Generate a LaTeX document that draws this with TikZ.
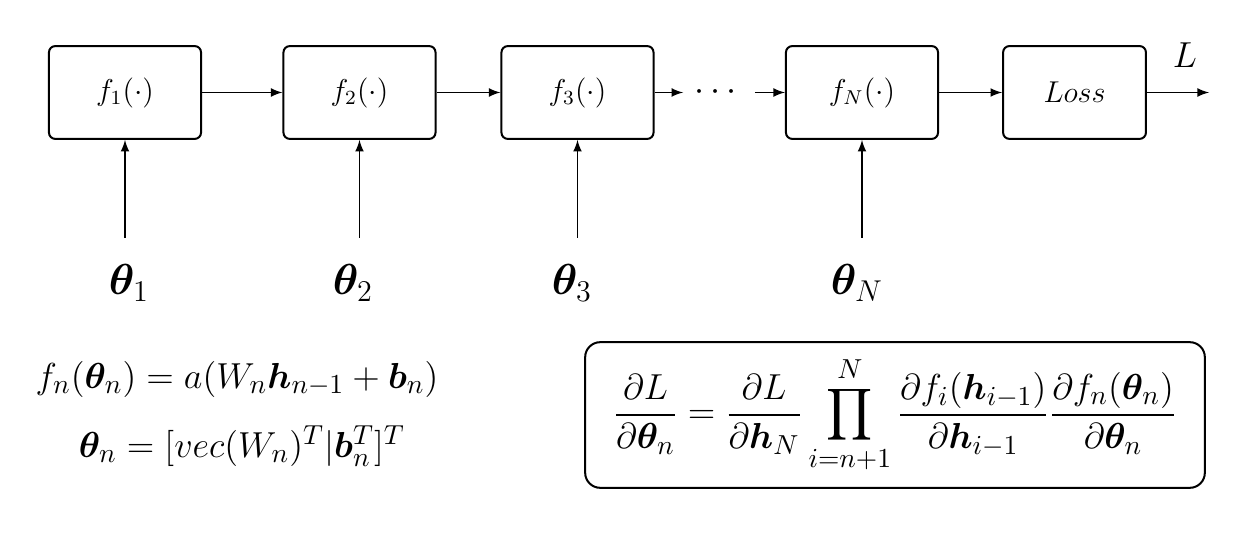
\documentclass[tikz,border=0pt]{standalone}
\usepackage{amsmath}
\usepackage{bm}
\usepackage{tikz}
\usetikzlibrary{shapes,arrows,positioning}

\newcommand{\eqsize}{\fontsize{15.6}{19}\selectfont}

\tikzset{
  fbox/.style={draw, line width=0.8pt, rounded corners=2.5pt, minimum width=2.13cm, minimum height=1.30cm, inner sep=0pt, font=\large},
  parlabel/.style={minimum height=1.26cm, inner sep=0pt},
  conn/.style={-latex, line width=0.6pt}
}

\begin{document}
\begin{tikzpicture}[x=0.014cm,y=-0.014cm,>=stealth]
      \useasboundingbox (0,0) rectangle (1246,539);

      % chain of blocks
      \node[fbox] (f1) at (125,92.5) {$f_1(\cdot)$};
      \node[fbox] (f2) at (359.5,92.5) {$f_2(\cdot)$};
      \node[fbox] (f3) at (577.5,92.5) {$f_3(\cdot)$};
      \node[minimum width=0.99cm, inner sep=0pt] (dots) at (719,92.5) {\Large$\cdots$};
      \node[fbox] (fN) at (862,92.5) {$f_N(\cdot)$};
      \node[fbox, minimum width=2.0cm] (loss) at (1074.5,92.5) {$Loss$};
      \coordinate (out) at (1209,92.5);
      \node (L) at (1185,55) {\Large$L$};

      \draw[conn] (f1) -- (f2);
      \draw[conn] (f2) -- (f3);
      \draw[conn] (f3) -- (dots);
      \draw[conn] (dots) -- (fN);
      \draw[conn] (fN) -- (loss);
      \draw[conn] (loss) -- (out);

      % parameters
      \node[parlabel] (t1) at (129,283) {\LARGE$\bm{\theta}_1$};
      \node[parlabel] (t2) at (353,283) {\LARGE$\bm{\theta}_2$};
      \node[parlabel] (t3) at (572,283) {\LARGE$\bm{\theta}_3$};
      \node[parlabel] (tN) at (857,283) {\LARGE$\bm{\theta}_N$};

      \draw[conn] (f1.south |- t1.north) -- (f1.south);
      \draw[conn] (f2.south |- t2.north) -- (f2.south);
      \draw[conn] (f3.south |- t3.north) -- (f3.south);
      \draw[conn] (fN.south |- tN.north) -- (fN.south);

      % equations
      \node (eq1) at (237,379) {\eqsize$f_n(\bm{\theta}_n) = a(W_n\bm{h}_{n-1} + \bm{b}_n)$};
      \node (eq2) at (242,446) {\eqsize$\bm{\theta}_n = [vec(W_n)^T|\bm{b}_n^T]^T$};
      \node[draw, line width=0.8pt, rounded corners=6pt, minimum width=8.68cm, minimum height=2.04cm] (grad) at (895,415)
        {\eqsize$\displaystyle\frac{\partial L}{\partial\bm{\theta}_n} = \frac{\partial L}{\partial\bm{h}_N}\prod_{i=n+1}^{N}\frac{\partial f_i(\bm{h}_{i-1})}{\partial\bm{h}_{i-1}}\frac{\partial f_n(\bm{\theta}_n)}{\partial\bm{\theta}_n}$};
    \end{tikzpicture}
\end{document}
